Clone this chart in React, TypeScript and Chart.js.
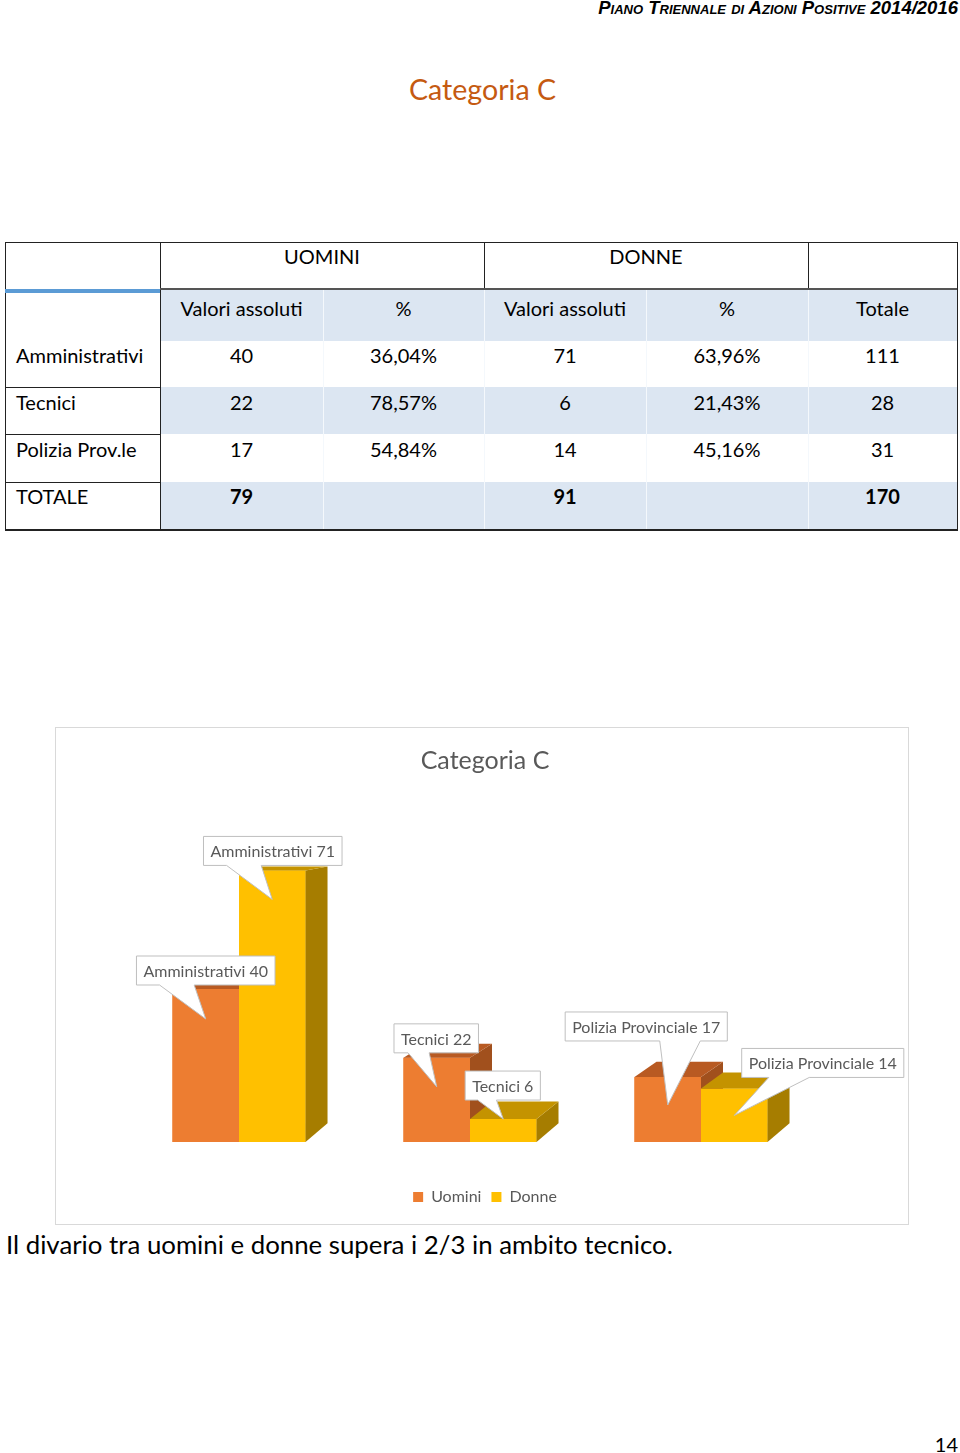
import React, { useEffect, useRef } from "react";
import { Chart, registerables } from "chart.js";

Chart.register(...registerables);

const FONT = "Lato, 'Open Sans', sans-serif";

// ---------- chart data ----------
const categories = ["Amministrativi", "Tecnici", "Polizia Provinciale"];
const uominiValues = [40, 22, 17];
const donneValues = [71, 6, 14];
const seriesNames = ["Uomini", "Donne"];
const chartTitle = "Categoria C";

// ---------- table data ----------
const groupHeaders = ["UOMINI", "DONNE"];
const subHeaders = ["Valori assoluti", "%", "Valori assoluti", "%", "Totale"];
const tableRowLabels = ["Amministrativi", "Tecnici", "Polizia Prov.le"];
const tableUominiAbs = ["40", "22", "17"];
const tableUominiPct = ["36,04%", "78,57%", "54,84%"];
const tableDonneAbs = ["71", "6", "14"];
const tableDonnePct = ["63,96%", "21,43%", "45,16%"];
const tableTotals = ["111", "28", "31"];
const totalRow = ["TOTALE", "79", "", "91", "", "170"];

// ---------- layout (not data) ----------
const COL_X = [5, 160, 323, 484, 646, 808, 957];
const ROW_Y = [242, 289, 341, 387, 434, 482, 529];
const ROW_TEXT_OFF = [14, 19, 14, 15, 15, 14];
const BLUE_BG = "#DCE6F2";
const SERIES_COLORS = ["#ED7D31", "#FFC000"];
const DEPTH_COLORS = [
  { top: "#B85A22", side: "#A1501D" },
  { top: "#C49300", side: "#A67D00" },
];
// per dataset, per category: [box centre dx, box bottom dy (from bar top), tip dy (from bar top)]
const CALLOUT_LAYOUT = [
  [[0, -4, 30], [-0.5, -5, 29], [-21.5, -36, 28]],
  [[0.5, -5, 29], [-0.5, -19, 0], [88.5, -11, 27]],
];

type TProps = {
  x: number;
  y: number;
  size: number;
  align?: "left" | "center" | "right";
  color?: string;
  bold?: boolean;
  style?: React.CSSProperties;
  children: React.ReactNode;
};

function T({ x, y, size, align = "left", color = "#000", bold, style, children }: TProps) {
  const tx = align === "center" ? "-50%" : align === "right" ? "-100%" : "0";
  return (
    <div
      style={{
        position: "absolute",
        left: x,
        top: y,
        transform: `translate(${tx}, -50%)`,
        fontFamily: FONT,
        fontSize: size,
        lineHeight: 1.2,
        color,
        fontWeight: bold ? 700 : 400,
        whiteSpace: "nowrap",
        ...style,
      }}
    >
      {children}
    </div>
  );
}

function Rect({ x, y, w, h, c }: { x: number; y: number; w: number; h: number; c: string }) {
  return <div style={{ position: "absolute", left: x, top: y, width: w, height: h, background: c }} />;
}

function DataTable() {
  const colCenter = (i: number) => (COL_X[i + 1] + COL_X[i + 2]) / 2;
  const textY = (r: number) => ROW_Y[r] + ROW_TEXT_OFF[r];
  const bodyRows = tableRowLabels.map((lab, i) => [
    lab,
    tableUominiAbs[i],
    tableUominiPct[i],
    tableDonneAbs[i],
    tableDonnePct[i],
    tableTotals[i],
  ]);
  const allRows = [...bodyRows, totalRow];
  const L = COL_X[0];
  const R = COL_X[6];
  const FS = 20;
  return (
    <>
      {[1, 3, 5].map((r) => (
        <Rect key={"bg" + r} x={COL_X[1]} y={ROW_Y[r]} w={R - COL_X[1]} h={ROW_Y[r + 1] - ROW_Y[r]} c={BLUE_BG} />
      ))}
      {[2, 3, 4, 5].map((c) => (
        <Rect key={"ws" + c} x={COL_X[c]} y={ROW_Y[1]} w={1} h={ROW_Y[6] - ROW_Y[1]} c="#F4F8FC" />
      ))}
      <Rect x={L} y={ROW_Y[0]} w={R - L + 1} h={1} c="#222" />
      <Rect x={L} y={ROW_Y[6]} w={R - L + 1} h={1.5} c="#222" />
      <Rect x={L} y={ROW_Y[0]} w={1} h={ROW_Y[6] - ROW_Y[0]} c="#222" />
      <Rect x={R} y={ROW_Y[0]} w={1} h={ROW_Y[6] - ROW_Y[0]} c="#222" />
      <Rect x={COL_X[1]} y={ROW_Y[0]} w={1} h={ROW_Y[6] - ROW_Y[0]} c="#222" />
      <Rect x={COL_X[3]} y={ROW_Y[0]} w={1} h={ROW_Y[1] - ROW_Y[0]} c="#222" />
      <Rect x={COL_X[5]} y={ROW_Y[0]} w={1} h={ROW_Y[1] - ROW_Y[0]} c="#222" />
      <Rect x={COL_X[1]} y={ROW_Y[1] - 1} w={R - COL_X[1]} h={2} c="#555" />
      <Rect x={L} y={ROW_Y[1]} w={COL_X[1] - L} h={4} c="#5B9BD5" />
      {[3, 4, 5].map((r) => (
        <Rect key={"hl" + r} x={L} y={ROW_Y[r]} w={COL_X[1] - L} h={1} c="#222" />
      ))}
      {groupHeaders.map((g, i) => (
        <T key={g} x={(COL_X[1 + 2 * i] + COL_X[3 + 2 * i]) / 2} y={textY(0)} size={FS} align="center">
          {g}
        </T>
      ))}
      {subHeaders.map((s, i) => (
        <T key={"sh" + i} x={colCenter(i)} y={textY(1)} size={FS} align="center">
          {s}
        </T>
      ))}
      {allRows.map((row, r) => (
        <React.Fragment key={"row" + r}>
          <T x={16} y={textY(r + 2)} size={FS}>
            {row[0]}
          </T>
          {row.slice(1).map((v, c) => (
            <T key={c} x={colCenter(c)} y={textY(r + 2)} size={FS} align="center" bold={r === 3}>
              {v}
            </T>
          ))}
        </React.Fragment>
      ))}
    </>
  );
}

function depthDy(y: number, top: number) {
  return Math.max(4, 0.055 * (y - top + 36));
}

// redraw bars in series order and add 3D top / side faces
const bar3dPlugin = {
  id: "bar3d",
  afterDatasetsDraw(chart: any) {
    const ctx = chart.ctx;
    const dx = 22;
    chart.data.datasets.forEach((_ds: any, di: number) => {
      const meta = chart.getDatasetMeta(di);
      const colors = DEPTH_COLORS[di];
      meta.data.forEach((el: any) => {
        el.draw(ctx);
        const { x, y, base, width } = el.getProps(["x", "y", "base", "width"], true);
        const l = x - width / 2;
        const r = x + width / 2;
        const dyT = depthDy(y, chart.chartArea.top);
        const dyB = depthDy(base, chart.chartArea.top);
        ctx.save();
        ctx.fillStyle = colors.side;
        ctx.beginPath();
        ctx.moveTo(r, y);
        ctx.lineTo(r + dx, y - dyT);
        ctx.lineTo(r + dx, base - dyB);
        ctx.lineTo(r, base);
        ctx.closePath();
        ctx.fill();
        ctx.fillStyle = colors.top;
        ctx.beginPath();
        ctx.moveTo(l, y);
        ctx.lineTo(l + dx, y - dyT);
        ctx.lineTo(r + dx, y - dyT);
        ctx.lineTo(r, y);
        ctx.closePath();
        ctx.fill();
        ctx.restore();
      });
    });
  },
};

const calloutPlugin = {
  id: "callouts",
  afterDraw(chart: any) {
    const ctx = chart.ctx;
    ctx.save();
    ctx.font = `16px ${FONT}`;
    chart.data.datasets.forEach((ds: any, di: number) => {
      const meta = chart.getDatasetMeta(di);
      meta.data.forEach((el: any, j: number) => {
        const { x, y } = el.getProps(["x", "y"], true);
        const [cdx, bdy, tdy] = CALLOUT_LAYOUT[di][j];
        const text = `${chart.data.labels[j]} ${ds.data[j]}`;
        const tw = ctx.measureText(text).width;
        const w = tw + 14;
        const h = 29;
        const cx = x + cdx;
        const L = cx - w / 2;
        const R = cx + w / 2;
        const B = y + bdy;
        const Tp = B - h;
        const tipX = x;
        const tipY = y + tdy;
        const right = tipX > cx + 5;
        const b0 = L + w * (right ? 7 / 12 : 2 / 12);
        const b1 = L + w * (right ? 10 / 12 : 5 / 12);
        ctx.beginPath();
        ctx.moveTo(L, Tp);
        ctx.lineTo(R, Tp);
        ctx.lineTo(R, B);
        ctx.lineTo(b1, B);
        ctx.lineTo(tipX, tipY);
        ctx.lineTo(b0, B);
        ctx.lineTo(L, B);
        ctx.closePath();
        ctx.fillStyle = "#FFFFFF";
        ctx.fill();
        ctx.strokeStyle = "#BFBFBF";
        ctx.lineWidth = 1;
        ctx.stroke();
        ctx.fillStyle = "#595959";
        ctx.textAlign = "center";
        ctx.textBaseline = "middle";
        ctx.fillText(text, cx, (Tp + B) / 2 + 1);
      });
    });
    ctx.restore();
  },
};

const hiddenAxis = {
  grid: { display: false },
  border: { display: false },
  ticks: { display: false },
};

function CategoryChart() {
  const ref = useRef<HTMLCanvasElement | null>(null);
  useEffect(() => {
    if (!ref.current) return;
    const chart = new Chart(ref.current, {
      type: "bar",
      data: {
        labels: categories,
        datasets: [
          { label: seriesNames[0], data: uominiValues, backgroundColor: SERIES_COLORS[0], borderWidth: 0 },
          { label: seriesNames[1], data: donneValues, backgroundColor: SERIES_COLORS[1], borderWidth: 0 },
        ],
      },
      options: {
        animation: false,
        responsive: false,
        events: [],
        layout: { padding: { left: 6, right: 0, top: 0, bottom: 9 } },
        datasets: { bar: { categoryPercentage: 0.576, barPercentage: 1 } },
        scales: {
          x: {
            display: true,
            ...hiddenAxis,
            afterFit: (scale: any) => {
              scale.height = 37;
            },
          },
          y: {
            display: true,
            position: "left",
            min: 0,
            max: 80,
            ...hiddenAxis,
            afterFit: (scale: any) => {
              scale.width = 61.5;
            },
          },
          yRight: {
            type: "linear",
            display: true,
            position: "right",
            min: 0,
            max: 80,
            ...hiddenAxis,
            afterFit: (scale: any) => {
              scale.width = 91.5;
            },
          },
        },
        plugins: {
          tooltip: { enabled: false },
          title: {
            display: true,
            text: chartTitle,
            color: "#595959",
            font: { family: FONT, size: 25, weight: "normal" },
            padding: { top: 18.4, bottom: 59.6 },
          },
          legend: {
            display: true,
            position: "bottom",
            labels: {
              boxWidth: 10,
              boxHeight: 10,
              padding: 10,
              color: "#595959",
              font: { family: FONT, size: 16 },
            },
          },
        },
      } as any,
      plugins: [bar3dPlugin, calloutPlugin],
    });
    return () => chart.destroy();
  }, []);
  return (
    <div
      style={{
        position: "absolute",
        left: 55,
        top: 727,
        width: 854,
        height: 498,
        border: "1px solid #D9D9D9",
        boxSizing: "border-box",
        background: "#fff",
      }}
    >
      <canvas ref={ref} width={852} height={496} style={{ display: "block" }} />
    </div>
  );
}

export default function App() {
  return (
    <div style={{ position: "absolute", left: 0, top: 0, width: 960, height: 1453, background: "#fff", overflow: "hidden" }}>
      <div
        style={{
          position: "absolute",
          right: 2,
          top: 8,
          transform: "translateY(-50%)",
          fontFamily: "'Liberation Sans', Arial, sans-serif",
          fontWeight: 700,
          fontStyle: "italic",
          fontVariant: "small-caps",
          fontSize: 18.5,
          lineHeight: 1.2,
          color: "#000",
          whiteSpace: "nowrap",
        }}
      >
        Piano Triennale di Azioni Positive 2014/2016
      </div>
      <T x={482.5} y={89} size={28.6} align="center" color="#C55A11">
        Categoria C
      </T>
      <DataTable />
      <CategoryChart />
      <T x={6} y={1244} size={25.8}>
        Il divario tra uomini e donne supera i 2/3 in ambito tecnico.
      </T>
      <T x={958} y={1444} size={20} align="right">
        14
      </T>
    </div>
  );
}
